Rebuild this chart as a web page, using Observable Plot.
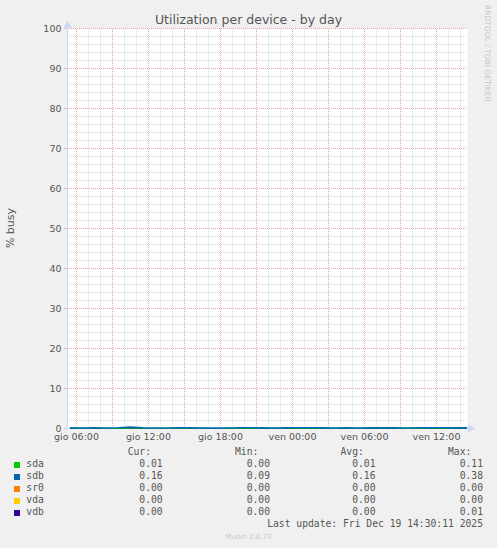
<!DOCTYPE html>
<html><head><meta charset="utf-8">
<script src="https://cdn.jsdelivr.net/npm/d3@7"></script>
<script src="https://cdn.jsdelivr.net/npm/@observablehq/plot@0.6"></script>
<style>
body{margin:0;background:#f0f0f0;width:497px;height:548px;position:relative;overflow:hidden;font-family:"DejaVu Sans",sans-serif;}
.abs{position:absolute;white-space:pre;line-height:normal;}
.mono{font-family:"DejaVu Sans Mono",monospace;font-size:9.7px;color:#555;}
</style></head><body>
<div id="chart" class="abs" style="left:0;top:0"></div>
<div id="title" class="abs" style="left:0;width:497px;top:12.4px;text-align:center;font-size:12.5px;color:#555;">Utilization per device - by day</div>
<div id="ylab" class="abs" style="left:10px;top:228px;font-size:11px;color:#555;transform:translate(-50%,-50%) rotate(-90deg);">% busy</div>
<div id="rrd" class="abs" style="left:483px;top:5px;font-size:7.5px;color:#c8c8c8;writing-mode:vertical-rl;">RRDTOOL / TOBI OETIKER</div>
<div id="legend"></div>
<script>
// ---- data ----
const times = [
 "2025-12-18T05:30","2025-12-18T06:30","2025-12-18T07:30","2025-12-18T08:30","2025-12-18T09:30",
 "2025-12-18T10:30","2025-12-18T11:30","2025-12-18T12:30","2025-12-18T13:30","2025-12-18T14:30",
 "2025-12-18T15:30","2025-12-18T16:30","2025-12-18T17:30","2025-12-18T18:30","2025-12-18T19:30",
 "2025-12-18T20:30","2025-12-18T21:30","2025-12-18T22:30","2025-12-18T23:30","2025-12-19T00:30",
 "2025-12-19T01:30","2025-12-19T02:30","2025-12-19T03:30","2025-12-19T04:30","2025-12-19T05:30",
 "2025-12-19T06:30","2025-12-19T07:30","2025-12-19T08:30","2025-12-19T09:30","2025-12-19T10:30",
 "2025-12-19T11:30","2025-12-19T12:30","2025-12-19T13:30","2025-12-19T14:30"];
const sda = [0.01,0.01,0.02,0.01,0.01,0.11,0.01,0.01,0.00,0.01,0.01,0.02,0.01,0.01,0.00,0.01,0.01,
             0.01,0.02,0.01,0.01,0.00,0.01,0.01,0.01,0.02,0.01,0.01,0.01,0.00,0.01,0.01,0.02,0.01];
const sdb = [0.15,0.14,0.16,0.13,0.17,0.38,0.15,0.12,0.14,0.18,0.16,0.11,0.09,0.13,0.17,0.19,0.15,
             0.14,0.16,0.18,0.20,0.15,0.13,0.17,0.14,0.16,0.19,0.15,0.12,0.17,0.16,0.18,0.15,0.16];
const sr0 = [0,0,0,0,0,0,0,0,0,0,0,0,0,0,0,0,0,0,0,0,0,0,0,0,0,0,0,0,0,0,0,0,0,0];
const vda = [0,0,0,0,0,0,0,0,0,0,0,0,0,0,0,0,0,0,0,0,0,0,0,0,0,0,0,0,0,0,0,0,0,0];
const vdb = [0,0,0,0,0,0,0,0,0,0,0,0.01,0,0,0,0,0,0,0,0,0,0,0,0,0,0,0,0,0,0,0,0,0,0];
const seriesNames = ["sda","sdb","sr0","vda","vdb"];
const seriesColors = ["#00cc00","#0066b3","#ff8000","#ffcc00","#330099"];
const curVals = ["0.01","0.16","0.00","0.00","0.00"];
const minVals = ["0.00","0.09","0.00","0.00","0.00"];
const avgVals = ["0.01","0.16","0.00","0.00","0.00"];
const maxVals = ["0.11","0.38","0.00","0.00","0.01"];
const statHeaders = ["Cur:","Min:","Avg:","Max:"];
const xTickTimes = ["2025-12-18T06:00","2025-12-18T12:00","2025-12-18T18:00","2025-12-19T00:00","2025-12-19T06:00","2025-12-19T12:00"];
const dayNames = {4:"gio",5:"ven"};
const yTicks = [0,10,20,30,40,50,60,70,80,90,100];
const xDomain = ["2025-12-18T05:15","2025-12-19T14:35"];
const lastUpdate = "Last update: Fri Dec 19 14:30:11 2025";
const footer = "Munin 2.0.73";

// ---- build ----
const parse = s => new Date(s);
const allSeries = [sda, sdb, sr0, vda, vdb];
const drawOrder = [2, 3, 4, 0, 1]; // sdb drawn last so it sits on top, as in the reference
const seriesRows = allSeries.map((vals, si) => vals.map((v, i) => ({t: parse(times[i]), v, s: seriesNames[si]})));
const dom = xDomain.map(parse);
const hours = d3.timeHour.range(dom[0], dom[1]);
const minorX = hours.filter(d => d.getHours() % 3 !== 0);
const majorX = hours.filter(d => d.getHours() % 3 === 0);
const minorY = d3.range(2, 100, 2).filter(v => v % 10 !== 0);
const majorY = yTicks;
const fmt = d3.timeFormat("%H:%M");
const gridStyle = {strokeDasharray: "1,1", strokeWidth: 1};
const axisColor = "#cfd6f8";

const chart = Plot.plot({
  width: 497, height: 448,
  marginLeft: 67, marginRight: 30, marginTop: 28, marginBottom: 20,
  style: {background: "transparent", fontFamily: "DejaVu Sans", fontSize: "9.5px", color: "#555", overflow: "visible"},
  x: {type: "time", domain: dom, label: null},
  y: {domain: [0, 100], label: null},
  color: {domain: seriesNames, range: seriesColors},
  marks: [
    Plot.frame({fill: "white", stroke: null}),
    Plot.ruleY(minorY, {stroke: "#d9d9d9", ...gridStyle}),
    Plot.ruleX(minorX, {stroke: "#d9d9d9", y1: 0, y2: 100, insetTop: -2, ...gridStyle}),
    Plot.ruleY(majorY, {stroke: "#e9a2a2", ...gridStyle}),
    Plot.ruleX(majorX, {stroke: "#e9a2a2", y1: 0, y2: 100, insetTop: -2, ...gridStyle}),
    Plot.axisY({ticks: yTicks, tickSize: 3, tickPadding: 3, stroke: "#cccccc", fill: "#555", fontSize: 9.5, label: null}),
    Plot.axisX({ticks: xTickTimes.map(parse), tickSize: 0, tickPadding: 5, fill: "#555", fontSize: 9.5, label: null,
      tickFormat: d => dayNames[d.getDay()] + " " + fmt(d)}),
    Plot.ruleX([dom[0]], {stroke: axisColor}),
    Plot.ruleY([0], {stroke: axisColor, insetRight: -3}),
    ...drawOrder.map(si => Plot.line(seriesRows[si], {x: "t", y: "v", stroke: "s", strokeWidth: si === 1 ? 1.6 : 1})),
    Plot.dot([{t: dom[1], v: 0}], {x: "t", y: "v", symbol: "triangle", rotate: 90, r: 3, fill: axisColor, stroke: null, dx: 3}),
    Plot.dot([{t: dom[0], v: 100}], {x: "t", y: "v", symbol: "triangle", r: 3, fill: axisColor, stroke: null, dy: -3})
  ]
});
document.getElementById("chart").appendChild(chart);

// legend
const L = document.getElementById("legend");
function addText(txt, left, right, baseline, cls, extra) {
  const d = document.createElement("div");
  d.className = "abs " + (cls || "");
  d.textContent = txt;
  const size = 9.7;
  d.style.top = (baseline - 0.928 * size - 0.5) + "px";
  if (left != null) d.style.left = left + "px";
  if (right != null) d.style.right = (497 - right) + "px";
  if (extra) Object.assign(d.style, extra);
  L.appendChild(d);
  return d;
}
const colRight = [162.7, 270, 375.5, 483];
const cols = [curVals, minVals, avgVals, maxVals];
statHeaders.forEach((h, i) => addText(h, null, colRight[i] - 11.7, 456, "mono"));
seriesNames.forEach((n, r) => {
  const base = 468 + 12 * r;
  const sw = document.createElement("div");
  sw.className = "abs";
  Object.assign(sw.style, {left: "14px", top: (base - 6) + "px", width: "6px", height: "6px", background: seriesColors[r]});
  L.appendChild(sw);
  addText(n, 26.3, null, base, "mono");
  cols.forEach((c, ci) => addText(c[r], null, colRight[ci], base, "mono"));
});
addText(lastUpdate, null, 483, 528, "mono");
const f = document.createElement("div");
f.className = "abs";
f.textContent = footer;
Object.assign(f.style, {left: "0", width: "497px", textAlign: "center", top: (540 - 0.928 * 7 - 0.5) + "px", fontSize: "7px", color: "#c8c8c8"});
L.appendChild(f);
</script>
</body></html>
